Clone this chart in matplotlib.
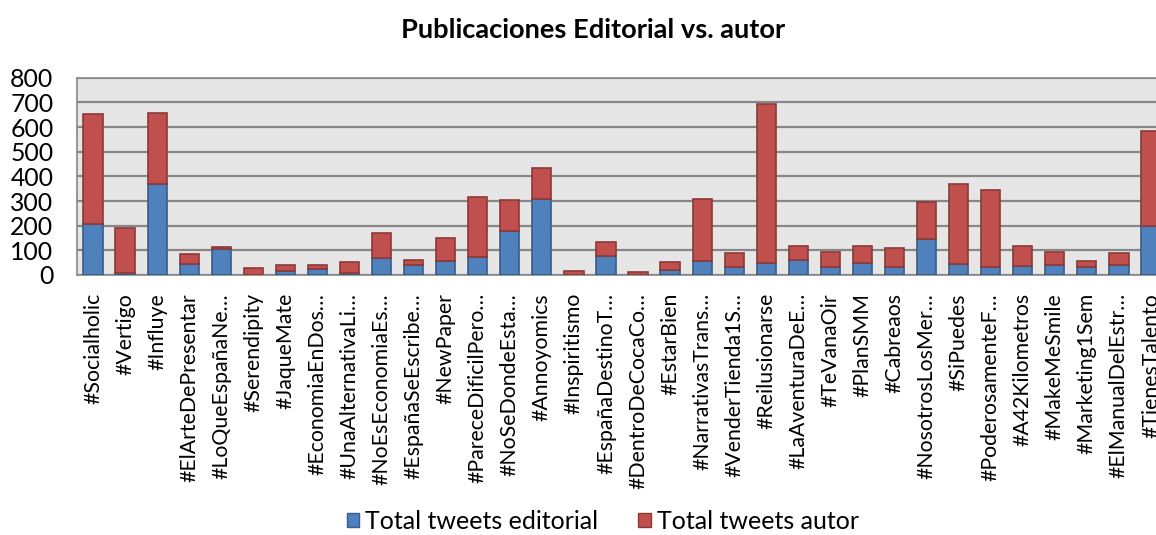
import numpy as np
import matplotlib
matplotlib.use('Agg')
import matplotlib.pyplot as plt
from matplotlib.patches import Patch

hashtags = ['#Socialholic', '#Vertigo', '#Influye', '#ElArteDePresentar',
            '#LoQueEspañaNe…', '#Serendipity', '#JaqueMate', '#EconomiaEnDos…',
            '#UnaAlternativaLi…', '#NoEsEconomiaEs…', '#EspañaSeEscribe…',
            '#NewPaper', '#PareceDificilPero…', '#NoSeDondeEsta…', '#Annoyomics',
            '#Inspiritismo', '#EspañaDestinoT…', '#DentroDeCocaCo…', '#EstarBien',
            '#NarrativasTrans…', '#VenderTienda1S…', '#Reilusionarse',
            '#LaAventuraDeE…', '#TeVanaOir', '#PlanSMM', '#Cabreaos',
            '#NosotrosLosMer…', '#SiPuedes', '#PoderosamenteF…', '#A42Kilometros',
            '#MakeMeSmile', '#Marketing1Sem', '#ElManualDelEstr…', '#TienesTalento']

tweets_editorial = [207, 10, 371, 45, 104, 2, 18, 24, 10, 70, 42, 55, 74, 177,
                    309, 0, 78, 0, 20, 57, 32, 50, 59, 32, 50, 31, 144, 45, 32,
                    36, 39, 34, 39, 198]
tweets_autor = [445, 182, 286, 39, 8, 25, 22, 16, 41, 101, 19, 96, 243, 129,
                126, 15, 57, 13, 34, 252, 58, 644, 58, 63, 69, 78, 152, 322,
                314, 81, 53, 23, 49, 384]

yticks = [0, 100, 200, 300, 400, 500, 600, 700, 800]

BLUE, BLUE_EDGE = '#4F81BD', '#385D8A'
RED, RED_EDGE = '#C0504D', '#8C3836'

plt.rcParams['font.family'] = ['Lato', 'DejaVu Sans']

fig = plt.figure(figsize=(11.56, 5.35), dpi=100)
# plot area runs a little past the right edge of the figure
ax = fig.add_axes([77 / 1156, 1 - 275 / 535, 1090 / 1156, 197.3 / 535])

x = np.arange(len(hashtags))
ax.bar(x, tweets_editorial, width=0.6, color=BLUE, edgecolor=BLUE_EDGE,
       linewidth=1.2, zorder=3)
ax.bar(x, tweets_autor, width=0.6, bottom=tweets_editorial, color=RED,
       edgecolor=RED_EDGE, linewidth=1.2, zorder=3)

ax.set_facecolor('#E6E6E6')
ax.set_xlim(-0.5, len(hashtags) - 0.5)
ax.set_ylim(0, 800)
ax.set_yticks(yticks)
ax.yaxis.grid(True, color='#878787', linewidth=1.6, zorder=1)
for s in ax.spines.values():
    s.set_color('#878787')
    s.set_linewidth(1.2)

ax.set_xticks(x)
ax.set_xticklabels(hashtags, rotation=90, ha='center', va='top', fontsize=15.3)
ax.tick_params(axis='x', length=0, pad=13)
ax.tick_params(axis='y', length=0, pad=17, labelsize=17.8)

fig.text(0.513, 0.943, 'Publicaciones Editorial vs. autor', ha='center',
         va='center', fontsize=19.6, fontweight='bold')

handles = [Patch(facecolor=BLUE, edgecolor=BLUE_EDGE),
           Patch(facecolor=RED, edgecolor=RED_EDGE)]
fig.legend(handles, ['Total tweets editorial', 'Total tweets autor'],
           loc='center', bbox_to_anchor=(0.5215, 0.026), ncol=2, frameon=False,
           fontsize=18, handlelength=0.5, handleheight=0.5, handletextpad=0.25,
           columnspacing=1.6)

fig.savefig('out.png', dpi=100)
